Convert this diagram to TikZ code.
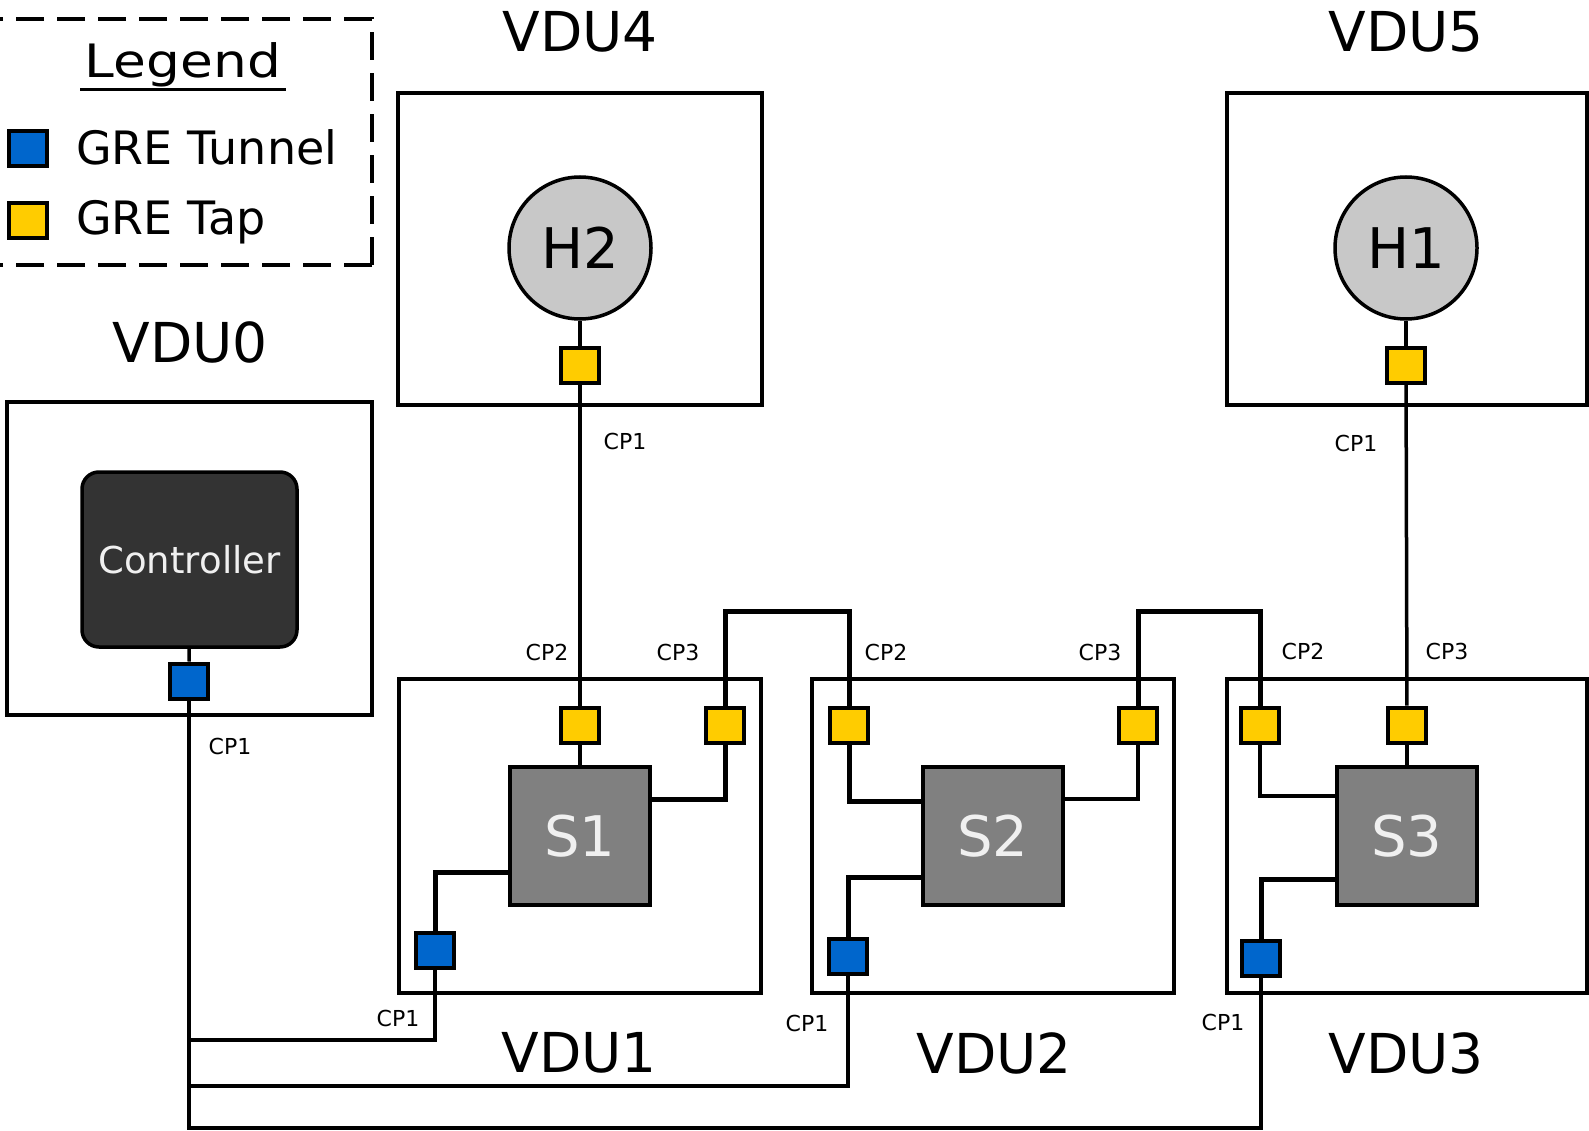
\documentclass[tikz,border=0pt]{standalone}
\usepackage{fontspec}
\setmainfont{DejaVu Sans}
\usetikzlibrary{calc}
\definecolor{tapyellow}{HTML}{FFCC00}
\definecolor{tunblue}{HTML}{0066CC}
\definecolor{swgray}{HTML}{808080}
\definecolor{hostgray}{HTML}{C8C8C8}
\definecolor{ctrlgray}{HTML}{333333}
\begin{document}
\begin{tikzpicture}[x=1pt,y=-1pt,
  vdubox/.style={draw, line width=4pt, minimum width=362pt, minimum height=313pt, inner sep=0pt},
  swbox/.style={draw, line width=3.5pt, fill=swgray, minimum width=140pt, minimum height=138pt, inner sep=0pt, text=white!94!black, font=\fontsize{56}{60}\selectfont},
  hostc/.style={circle, draw, line width=3.5pt, fill=hostgray, minimum size=142pt, inner sep=0pt, font=\fontsize{56}{60}\selectfont},
  tap/.style={draw, line width=4pt, fill=tapyellow, minimum width=38pt, minimum height=35pt, inner sep=0pt},
  tun/.style={draw, line width=4pt, fill=tunblue, minimum width=38pt, minimum height=35pt, inner sep=0pt},
  biglabel/.style={inner sep=0pt, font=\fontsize{55}{60}\selectfont},
  cplabel/.style={inner sep=0pt, font=\fontsize{22}{24}\selectfont},
  wire/.style={line width=3.5pt},
  link/.style={line width=5pt}
]
\useasboundingbox (0,0) rectangle (1589,1131);
\fill[white] (0,0) rectangle (1589,1131);

% Legend
\draw[line width=3.5pt, dash pattern=on 28pt off 13pt] (372,265) -- (372,19) -- (-10,19);
\draw[line width=3.5pt, dash pattern=on 28pt off 13pt] (372,265) -- (-10,265);
\node[inner sep=0pt, anchor=base, font=\fontsize{46}{50}\selectfont] (legtitle) at (183,78) {\scalebox{1.16}[1]{Legend}};
\draw[line width=3pt] (80,90) -- (286,90);
\node[tun] (legtun) at (28,149) {};
\node[tap] (legtap) at (28,221) {};
\node[inner sep=0pt, anchor=base west, font=\fontsize{46}{50}\selectfont] (legtuntext) at (76,165) {GRE Tunnel};
\node[inner sep=0pt, anchor=base west, font=\fontsize{46}{50}\selectfont] (legtaptext) at (76,235) {GRE Tap};

% VDU boxes
\node[vdubox, minimum width=365pt] (vdu0) at (189.5,558.5) {};
\node[vdubox, minimum width=364pt, minimum height=312pt] (vdu4) at (580,249) {};
\node[vdubox, minimum width=360pt, minimum height=312pt] (vdu5) at (1407,249) {};
\node[vdubox, minimum height=314pt] (vdu1) at (580,836) {};
\node[vdubox, minimum height=314pt] (vdu2) at (993,836) {};
\node[vdubox, minimum width=360pt, minimum height=314pt] (vdu3) at (1407,836) {};

% VDU labels
\node[biglabel] (l0) at (190,342) {VDU0};
\node[biglabel] (l4) at (580,32) {VDU4};
\node[biglabel] (l5) at (1406,32) {VDU5};
\node[biglabel] (l1) at (579,1053) {VDU1};
\node[biglabel] (l2) at (994,1053) {VDU2};
\node[biglabel] (l3) at (1406,1053) {VDU3};

% Controller
\node[draw, line width=3.5pt, fill=ctrlgray, rounded corners=17pt, minimum width=215pt, minimum height=175pt, inner sep=0pt, text=white!94!black, font=\fontsize{37}{40}\selectfont] (ctrl) at (189.5,559.5) {Controller};
\node[tun] (c0cp1) at (189,681) {};

% Hosts
\node[hostc] (h2) at (580,248) {H2};
\node[hostc] (h1) at (1406,248) {H1};
\node[tap] (h2t) at (580,365) {};
\node[tap] (h1t) at (1406,365) {};

% Switches
\node[swbox] (s1) at (580,836) {S1};
\node[swbox] (s2) at (993,836) {S2};
\node[swbox] (s3) at (1407,836) {S3};

% ports
\node[tap] (s1cp2) at (580,725) {};
\node[tap] (s1cp3) at (725,725) {};
\node[tun] (s1cp1) at (435,950) {};
\node[tap] (s2cp2) at (849,725) {};
\node[tap] (s2cp3) at (1138,725) {};
\node[tun] (s2cp1) at (848,956) {};
\node[tap] (s3cp2) at (1260,725) {};
\node[tap] (s3cp3) at (1407,725) {};
\node[tun] (s3cp1) at (1261,958) {};

% CP labels
\node[cplabel] (t0) at (230,746) {CP1};
\node[cplabel] (t4) at (625,441) {CP1};
\node[cplabel] (t5) at (1356,443) {CP1};
\node[cplabel] (t1a) at (547,652) {CP2};
\node[cplabel] (t1b) at (678,652) {CP3};
\node[cplabel] (t2a) at (886,652) {CP2};
\node[cplabel] (t2b) at (1100,652) {CP3};
\node[cplabel] (t3a) at (1303,651) {CP2};
\node[cplabel] (t3b) at (1447,651) {CP3};
\node[cplabel] (t1c) at (398,1018) {CP1};
\node[cplabel] (t2c) at (807,1023) {CP1};
\node[cplabel] (t3c) at (1223,1022) {CP1};

% coordinates
\coordinate (lk1) at (787,611);
\coordinate (lk2) at (1199,611);
\coordinate (r1) at (190,1040);
\coordinate (r2) at (190,1086);
\coordinate (r3) at (700,1128);

% connectors
\draw[wire] (h2) -- (h2t);
\draw[wire] (h2t) -- (s1cp2);
\draw[wire] (s1cp2) -- (s1);
\draw[wire] (h1) -- (h1t);
\draw[wire] (h1t) -- (s3cp3);
\draw[wire] (s3cp3) -- (s3);
\draw[wire] (ctrl) -- (c0cp1);

\draw[link] ([yshift=37pt]s1.east) -| (s1cp3);
\draw[link] (s1cp3) |- (lk1) -| (s2cp2);
\draw[link] (s2cp2) |- ([yshift=35pt]s2.west);
\draw[wire] ([yshift=37pt]s2.east) -| (s2cp3);
\draw[link] (s2cp3) |- (lk2) -| (s3cp2);
\draw[wire] (s3cp2) |- ([yshift=40pt]s3.west);

\draw[link] ([yshift=-36pt]s1.west) -| (s1cp1);
\draw[link] ([yshift=-41pt]s2.west) -| (s2cp1);
\draw[link] ([yshift=-43pt]s3.west) -| (s3cp1);

\draw[wire] (c0cp1) |- (r3) -| (s3cp1);
\draw[wire] (s1cp1) |- (r1);
\draw[wire] (s2cp1) |- (r2);
\end{tikzpicture}
\end{document}
